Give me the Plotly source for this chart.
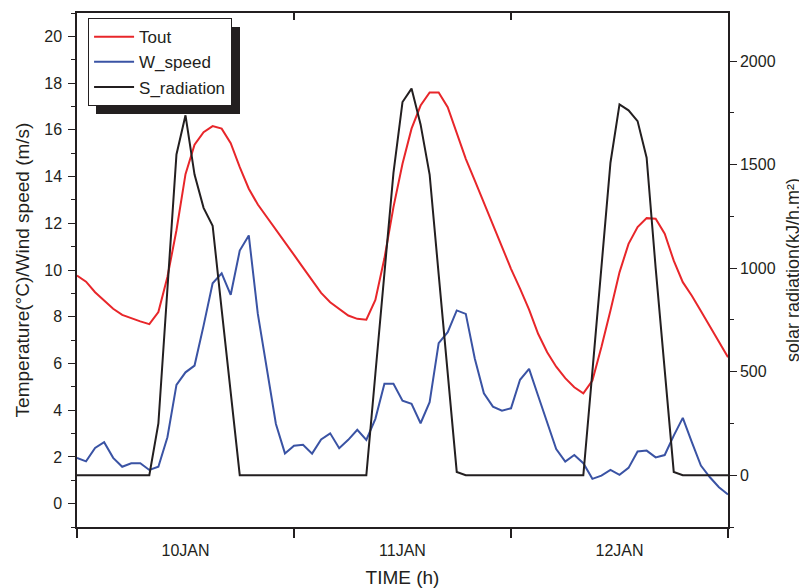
import plotly.graph_objects as go

hours = list(range(73))

tout = [9.76, 9.5, 9.05, 8.68, 8.34, 8.08, 7.93, 7.8, 7.68, 8.2,
        9.7, 11.7, 14.1, 15.36, 15.9, 16.16, 16.05, 15.43, 14.4, 13.48,
        12.8, 12.27, 11.75, 11.2, 10.65, 10.1, 9.55, 9.02, 8.62, 8.34,
        8.05, 7.91, 7.87, 8.72, 10.5, 12.69, 14.55, 16.05, 17.04, 17.6,
        17.6, 16.97, 15.83, 14.76, 13.83, 12.9, 11.9, 10.98, 10.05, 9.2,
        8.3, 7.27, 6.48, 5.86, 5.37, 4.98, 4.72, 5.27, 6.7, 8.27,
        9.9, 11.12, 11.84, 12.22, 12.19, 11.55, 10.4, 9.48, 8.9, 8.25,
        7.6, 6.95, 6.27]

w_speed = [1.96, 1.81, 2.38, 2.63, 1.96, 1.58, 1.73, 1.73, 1.44, 1.58,
           2.84, 5.08, 5.62, 5.91, 7.62, 9.43, 9.86, 8.94, 10.83, 11.48,
           8.12, 5.7, 3.41, 2.15, 2.48, 2.52, 2.14, 2.75, 3.01, 2.37,
           2.73, 3.16, 2.73, 3.63, 5.13, 5.13, 4.41, 4.27, 3.44, 4.34,
           6.87, 7.34, 8.27, 8.12, 6.2, 4.72, 4.15, 3.98, 4.08, 5.3,
           5.77, 4.62, 3.46, 2.34, 1.8, 2.08, 1.73, 1.06, 1.2, 1.44,
           1.23, 1.53, 2.23, 2.27, 1.98, 2.08, 2.91, 3.67, 2.63, 1.63,
           1.13, 0.7, 0.39]

s_radiation = [0, 0, 0, 0, 0, 0, 0, 0, 0, 250,
               900, 1549, 1738, 1452, 1291, 1205, 800, 400, 0, 0,
               0, 0, 0, 0, 0, 0, 0, 0, 0, 0,
               0, 0, 0, 490, 975, 1460, 1802, 1867, 1694, 1452,
               970, 480, 16, 0, 0, 0, 0, 0, 0, 0,
               0, 0, 0, 0, 0, 0, 0, 500, 1000, 1509,
               1791, 1762, 1710, 1533, 1000, 500, 16, 0, 0, 0,
               0, 0, 0]

day_labels = ["10JAN", "11JAN", "12JAN"]
day_label_pos = [12, 36, 60]
day_bounds = [0, 24, 48, 72]
inner_bounds = [24, 48]

INK = "#231f20"
FONT = "Liberation Sans, Arial, sans-serif"

# page body has an 8px margin; compensate so the plot area lands at
# x 77..728 and y 13..527 in the window
W, H = 799, 580
L, R, T, B = 69, 79, 5, 61

fig = go.Figure()
fig.add_trace(go.Scatter(x=hours, y=tout, name="Tout", mode="lines",
                         line=dict(color="#e8262a", width=2)))
fig.add_trace(go.Scatter(x=hours, y=w_speed, name="W_speed", mode="lines",
                         line=dict(color="#3a53a4", width=2)))
fig.add_trace(go.Scatter(x=hours, y=s_radiation, name="S_radiation", mode="lines",
                         line=dict(color=INK, width=2), xaxis="x2", yaxis="y2"))

fig.update_layout(
    width=W, height=H,
    margin=dict(l=L, r=R, t=T, b=B, autoexpand=False),
    paper_bgcolor="white", plot_bgcolor="white",
    font=dict(family=FONT, color=INK, size=16),
    showlegend=True,
    legend=dict(x=0.017, y=0.99, xanchor="left", yanchor="top",
                bgcolor="white", bordercolor=INK, borderwidth=1,
                font=dict(size=17, family=FONT, color=INK),
                itemwidth=40, tracegroupgap=0),
    xaxis=dict(range=[0, 72], tickmode="array", tickvals=day_label_pos,
               ticktext=day_labels, ticks="", showgrid=False, zeroline=False,
               showline=True, linecolor=INK, linewidth=1.5, mirror=True,
               automargin=False, tickfont=dict(size=16), ticklabelstandoff=8,
               minor=dict(tickmode="array", tickvals=day_bounds, ticks="outside",
                          ticklen=9, tickwidth=1.5, tickcolor=INK, showgrid=False),
               title=dict(text="TIME (h)", font=dict(size=19), standoff=14)),
    xaxis2=dict(range=[0, 72], overlaying="x", side="top", tickmode="array",
                tickvals=inner_bounds, showticklabels=False, ticks="inside",
                ticklen=7, tickwidth=1.5, tickcolor=INK, showgrid=False,
                zeroline=False, showline=False, automargin=False),
    yaxis=dict(range=[-1, 21], tick0=0, dtick=2, ticks="outside", ticklen=7,
               tickwidth=1.2, tickcolor=INK, showgrid=False, zeroline=False,
               showline=True, linecolor=INK, linewidth=1.5, automargin=False,
               minor=dict(dtick=1, tick0=0, ticks="outside", ticklen=4,
                          tickcolor=INK, tickwidth=1.2, showgrid=False),
               tickfont=dict(size=16), ticklabelstandoff=3,
               title=dict(text="Temperature(°C)/Wind speed (m/s)",
                          font=dict(size=19), standoff=10)),
    yaxis2=dict(range=[-250, 2232], overlaying="y", side="right", anchor="x2",
                tick0=0, dtick=500,
                ticks="outside", ticklen=7, tickwidth=1.2, tickcolor=INK,
                showgrid=False, zeroline=False, showline=True, linecolor=INK,
                linewidth=1.5, automargin=False,
                minor=dict(dtick=250, tick0=0, ticks="outside", ticklen=4,
                           tickcolor=INK, tickwidth=1.2, showgrid=False),
                tickfont=dict(size=16),
                title=dict(text="solar radiation(kJ/h.m²)",
                           font=dict(size=18), standoff=12)),
)

# legend drop shadow (offset ~8px right/down from the legend box)
fig.add_shape(type="rect", xref="paper", yref="paper",
              x0=(96 - 77) / 651, x1=(240 - 77) / 651,
              y0=(527 - 114) / 514, y1=(527 - 27) / 514,
              fillcolor=INK, line=dict(width=0), layer="above")

fig.write_html("out.html")
